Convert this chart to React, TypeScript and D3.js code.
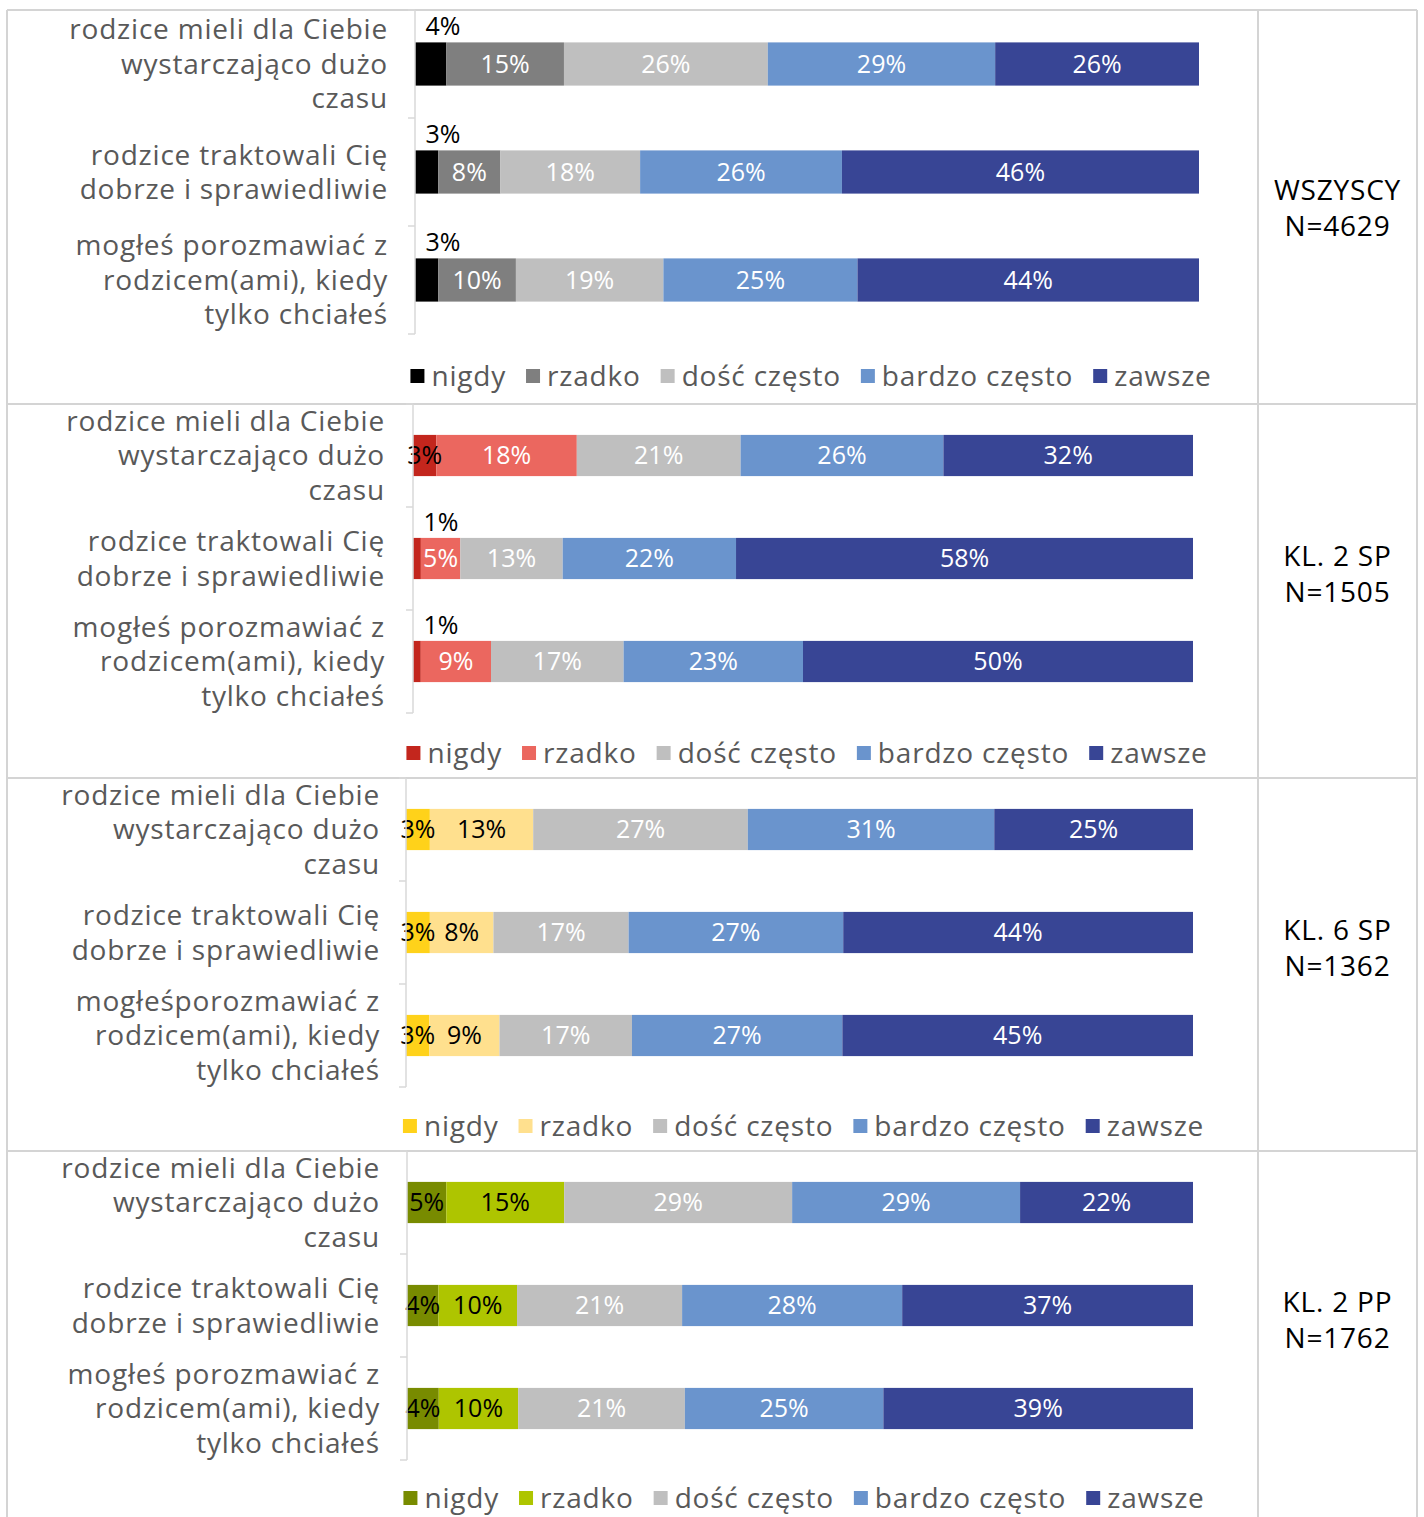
import * as d3 from 'd3';

const WIDTH = 1424;
const HEIGHT = 1517;
const FONT = '"Open Sans", sans-serif';
const TEXT_GREY = '#595959';
const RULE = '#d4d4d4';

const SERIES = ['nigdy', 'rzadko', 'dość często', 'bardzo często', 'zawsze'];

const CATEGORIES = [
  ['rodzice mieli dla Ciebie', 'wystarczająco dużo', 'czasu'],
  ['rodzice traktowali Cię', 'dobrze i sprawiedliwie'],
  ['mogłeś porozmawiać z', 'rodzicem(ami), kiedy', 'tylko chciałeś'],
];
// the 6 SP panel has the missing space in its source label
const CATEGORIES_6SP = [
  ['rodzice mieli dla Ciebie', 'wystarczająco dużo', 'czasu'],
  ['rodzice traktowali Cię', 'dobrze i sprawiedliwie'],
  ['mogłeśporozmawiać z', 'rodzicem(ami), kiedy', 'tylko chciałeś'],
];

const GROUPS = ['WSZYSCY', 'KL. 2 SP', 'KL. 6 SP', 'KL. 2 PP'];
const GROUP_N = ['N=4629', 'N=1505', 'N=1362', 'N=1762'];

const VALUES_ALL = [
  [4, 15, 26, 29, 26],
  [3, 8, 18, 26, 46],
  [3, 10, 19, 25, 44],
];
const VALUES_2SP = [
  [3, 18, 21, 26, 32],
  [1, 5, 13, 22, 58],
  [1, 9, 17, 23, 50],
];
const VALUES_6SP = [
  [3, 13, 27, 31, 25],
  [3, 8, 17, 27, 44],
  [3, 9, 17, 27, 45],
];
const VALUES_2PP = [
  [5, 15, 29, 29, 22],
  [4, 10, 21, 28, 37],
  [4, 10, 21, 25, 39],
];

// which "nigdy" labels sit above the bar instead of inside it
const NIGDY_ABOVE = [
  [true, true, true],
  [false, true, true],
  [false, false, false],
  [false, false, false],
];

const GREY = '#bfbfbf';
const LIGHT_BLUE = '#6a94cd';
const DARK_BLUE = '#384595';
const PALETTES = [
  ['#000000', '#7f7f7f', GREY, LIGHT_BLUE, DARK_BLUE],
  ['#c3261d', '#eb675f', GREY, LIGHT_BLUE, DARK_BLUE],
  ['#ffd21a', '#ffe08e', GREY, LIGHT_BLUE, DARK_BLUE],
  ['#788b00', '#aec500', GREY, LIGHT_BLUE, DARK_BLUE],
];
const INK = [
  ['#000', '#fff', '#fff', '#fff', '#fff'],
  ['#000', '#fff', '#fff', '#fff', '#fff'],
  ['#000', '#000', '#fff', '#fff', '#fff'],
  ['#000', '#000', '#fff', '#fff', '#fff'],
];

const PANELS = [
  { data: VALUES_ALL, cats: CATEGORIES, top: 10, axisX: 415, barEnd: 1199, step: 108, labelRight: 388, legendY: 376, groupY: 198 },
  { data: VALUES_2SP, cats: CATEGORIES, top: 404, axisX: 413, barEnd: 1193, step: 103, labelRight: 385, legendY: 753, groupY: 170 },
  { data: VALUES_6SP, cats: CATEGORIES_6SP, top: 778, axisX: 406, barEnd: 1193, step: 103, labelRight: 380, legendY: 1126, groupY: 170 },
  { data: VALUES_2PP, cats: CATEGORIES, top: 1151, axisX: 407, barEnd: 1193, step: 103, labelRight: 380, legendY: 1498, groupY: 169 },
];

const CAT_SIZE = 28;
const VAL_SIZE = 25;
const LEG_SIZE = 28;
const SPACING = 0.8;

const measureCtx = typeof document !== 'undefined' ? document.createElement('canvas').getContext('2d') : null;
function textWidth(s: string, size: number) {
  if (!measureCtx) return s.length * size * 0.55;
  measureCtx.font = `${size}px "Open Sans"`;
  return measureCtx.measureText(s).width + SPACING * s.length;
}

function Panel({ idx }: { idx: number }) {
  const p = PANELS[idx];
  const colors = PALETTES[idx];
  const ink = INK[idx];

  const rows = p.data.map((vals, i) => {
    const total = d3.sum(vals);
    const row: any = { key: String(i) };
    SERIES.forEach((s, j) => (row[s] = vals[j] / total));
    return row;
  });
  const stacked = d3.stack<any>().keys(SERIES)(rows);

  const y = d3
    .scaleBand()
    .domain(rows.map((r) => r.key))
    .range([p.top, p.top + p.step * rows.length])
    .paddingInner(0.6)
    .paddingOuter(0.3);
  const x = d3.scaleLinear().domain([0, 1]).range([p.axisX, p.barEnd]);

  const ticks = d3.range(rows.length + 1).map((i) => p.top + i * p.step);

  // legend layout
  const sq = 14;
  const gapText = 7;
  const gapItem = 20;
  const widths = SERIES.map((s) => sq + gapText + textWidth(s, LEG_SIZE));
  const total = d3.sum(widths) + gapItem * (SERIES.length - 1);
  let cursor = (p.axisX + p.barEnd) / 2 + 4 - total / 2;
  const legend = SERIES.map((s, j) => {
    const item = { s, x: cursor, color: colors[j] };
    cursor += widths[j] + gapItem;
    return item;
  });

  return (
    <g>
      {/* category labels */}
      {p.cats.map((lines, i) => {
        const cy = (y(String(i)) as number) + y.bandwidth() / 2;
        const lh = 34.5;
        return (
          <text
            key={`c${i}`}
            textAnchor="end"
            fill={TEXT_GREY}
            fontSize={CAT_SIZE}
            fontFamily={FONT}
            letterSpacing={SPACING}
          >
            {lines.map((l, k) => (
              <tspan key={k} x={p.labelRight} y={cy + (k - (lines.length - 1) / 2) * lh} dy="0.35em">
                {l}
              </tspan>
            ))}
          </text>
        );
      })}

      {/* bars */}
      {stacked.map((layer, j) =>
        layer.map((d, i) => (
          <rect
            key={`${j}-${i}`}
            x={x(d[0])}
            y={y(String(i))}
            width={x(d[1]) - x(d[0])}
            height={y.bandwidth()}
            fill={colors[j]}
          />
        ))
      )}

      {/* value labels */}
      {stacked.map((layer, j) =>
        layer.map((d, i) => {
          const v = p.data[i][j];
          const above = j === 0 && NIGDY_ABOVE[idx][i];
          const by = y(String(i)) as number;
          const cx = above ? p.axisX + 28 : (x(d[0]) + x(d[1])) / 2;
          const cy = above ? by - 16 : by + y.bandwidth() / 2;
          return (
            <text
              key={`v${j}-${i}`}
              x={cx}
              y={cy}
              dy="0.35em"
              textAnchor="middle"
              fontSize={VAL_SIZE}
              fontFamily={FONT}
              fill={above ? '#000' : ink[j]}
            >
              {v}%
            </text>
          );
        })
      )}

      {/* category axis */}
      <line x1={p.axisX} x2={p.axisX} y1={ticks[0]} y2={ticks[ticks.length - 1]} stroke="#d9d9d9" strokeWidth={1.5} />
      {ticks.map((t) => (
        <line key={`t${t}`} x1={p.axisX - 7} x2={p.axisX} y1={t} y2={t} stroke="#d9d9d9" strokeWidth={1.5} />
      ))}

      {/* legend */}
      {legend.map((it) => (
        <g key={it.s}>
          <rect x={it.x} y={p.legendY - sq / 2} width={sq} height={sq} fill={it.color} />
          <text
            x={it.x + sq + gapText}
            y={p.legendY}
            dy="0.35em"
            fontSize={LEG_SIZE}
            fontFamily={FONT}
            letterSpacing={SPACING}
            fill={TEXT_GREY}
          >
            {it.s}
          </text>
        </g>
      ))}

      {/* group label */}
      <text textAnchor="middle" fontSize={CAT_SIZE} fontFamily={FONT} letterSpacing={SPACING} fill="#000">
        <tspan x={1337.5} y={p.top + p.groupY - 18} dy="0.35em">
          {GROUPS[idx]}
        </tspan>
        <tspan x={1337.5} y={p.top + p.groupY + 18} dy="0.35em">
          {GROUP_N[idx]}
        </tspan>
      </text>
    </g>
  );
}

export default function App() {
  const hLines = [10, 404, 778, 1151];
  const vLines = [7, 1258, 1417];
  return (
    <svg
      width={WIDTH}
      height={HEIGHT}
      viewBox={`0 0 ${WIDTH} ${HEIGHT}`}
      style={{ position: 'absolute', left: 0, top: 0, background: '#fff' }}
    >
      <rect width={WIDTH} height={HEIGHT} fill="#fff" />
      {hLines.map((h) => (
        <line key={`h${h}`} x1={7} x2={1417} y1={h} y2={h} stroke={RULE} strokeWidth={2} />
      ))}
      {vLines.map((v) => (
        <line key={`v${v}`} x1={v} x2={v} y1={10} y2={HEIGHT} stroke={RULE} strokeWidth={2} />
      ))}
      {PANELS.map((_, i) => (
        <Panel key={i} idx={i} />
      ))}
    </svg>
  );
}
